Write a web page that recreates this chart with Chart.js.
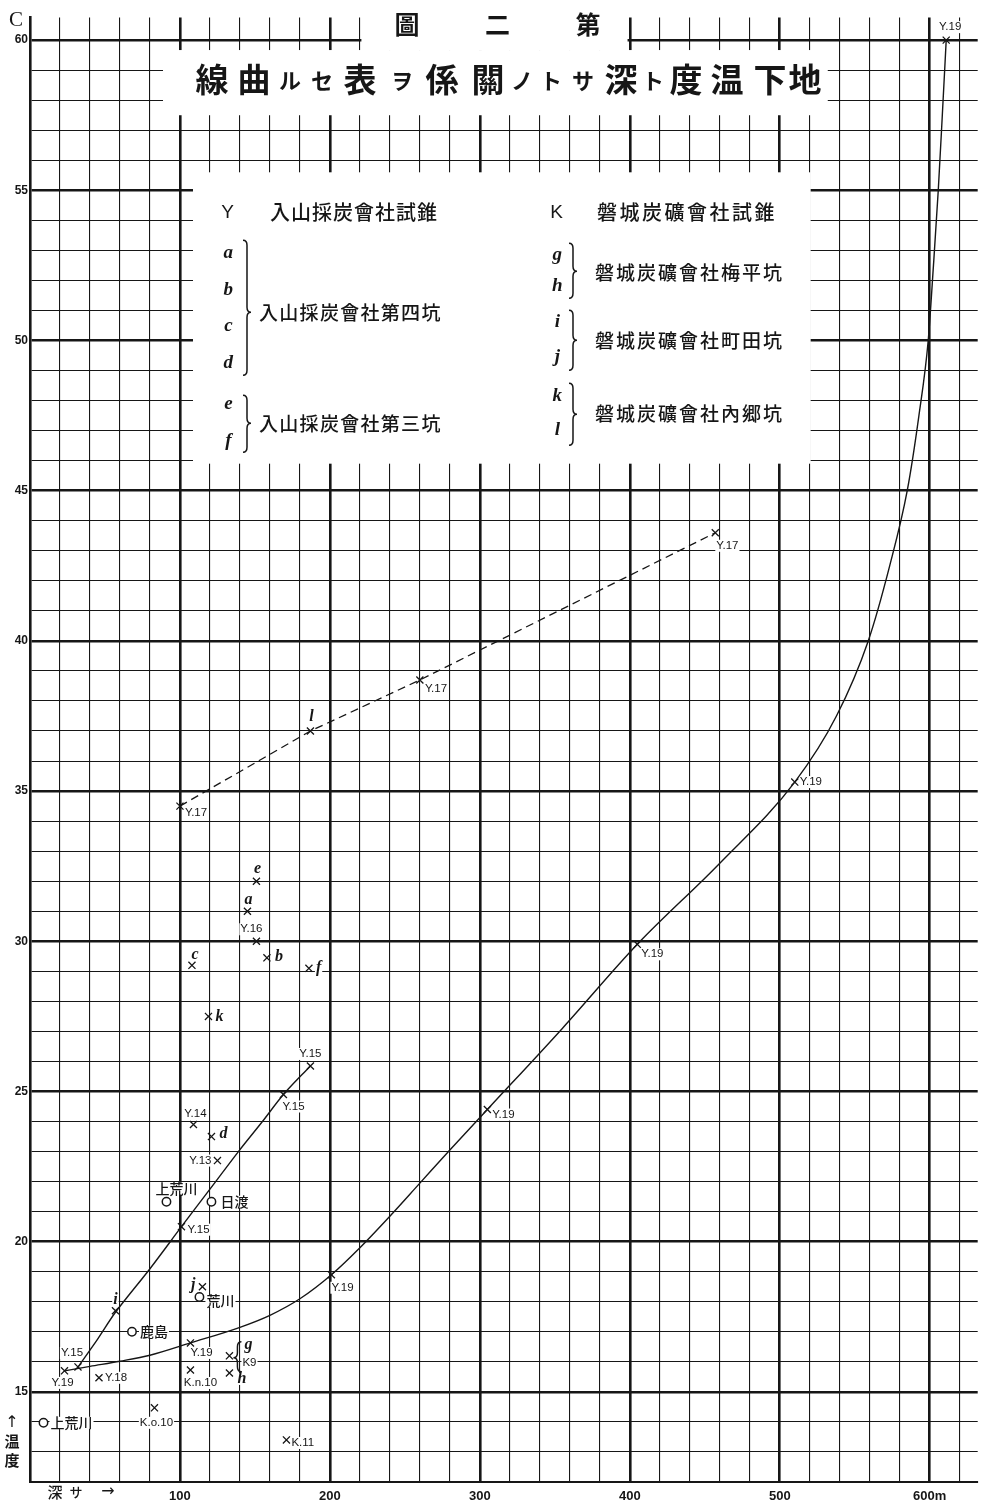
<!DOCTYPE html>
<html lang="ja">
<head>
<meta charset="utf-8">
<title>地下温度ト深サトノ關係ヲ表セル曲線</title>
<script src="https://cdn.jsdelivr.net/npm/chart.js@4.4.1/dist/chart.umd.min.js"></script>
<style>
  html, body { margin: 0; padding: 0; background: #fff; }
  #wrap { position: relative; width: 984px; height: 1506px; }
</style>
</head>
<body>
<div id="wrap"><canvas id="chart"></canvas></div>
<script>
// depth in metres along x, temperature in °C along y
const depthTicks = [100, 200, 300, 400, 500, 600];
const tempTicks = [15, 20, 25, 30, 35, 40, 45, 50, 55, 60];

// Y.19 bore: observations and the curve drawn through them
const y19Points = [[23, 15.7], [107, 16.63], [201, 18.9], [305, 24.4], [405, 29.9], [510, 35.3], [611, 60.0]];
const y19Curve = [
  [23, 15.7], [40, 15.85], [60, 16.02], [80, 16.22], [107, 16.63], [140, 17.15], [160, 17.55], [180, 18.1],
  [201, 18.9], [220, 19.8], [240, 20.85], [260, 21.95], [280, 23.05], [305, 24.4], [355, 27.1],
  [405, 29.9], [460, 32.6], [510, 35.3], [537.8, 37.5], [559, 40.0], [573.3, 42.5], [585, 45.0],
  [592.8, 47.5], [599, 50.0], [602.5, 52.5], [605.7, 55.0], [608.4, 57.5], [611, 60.0]
];

// Y.15 bore
const y15Points = [[32, 15.83], [101, 20.5], [169, 24.9], [187, 25.85]];
const y15Curve = [[32, 15.83], [45, 16.75], [57, 17.65], [80, 19.1], [101, 20.5], [120, 21.75], [139, 23.0], [155, 24.0], [169, 24.9], [187, 25.85]];

// Y.17 bore, joined by a broken line through pit l
const y17Points = [[100, 34.5], [260, 38.7], [457, 43.6]];
const y17Line = [[100, 34.5], [187, 37.0], [260, 38.7], [457, 43.6]];

// single readings from other bores
const otherBores = [['Y.16', 151, 30.0], ['Y.14', 109, 23.9], ['Y.13', 125, 22.7], ['Y.18', 46, 15.47],
  ['K.n.10', 107, 15.73], ['K.o.10', 83, 14.47], ['K.11', 171, 13.4]];

// pits a–l
const pitPoints = [['a', 145, 31.0], ['b', 158, 29.45], ['c', 108, 29.2], ['d', 121, 23.5], ['e', 151, 32.0],
  ['f', 186, 29.1], ['g', 133, 16.2], ['h', 133, 15.63], ['i', 57, 17.7], ['j', 115, 18.5], ['k', 119, 27.5], ['l', 187, 37.0]];

// springs and wells, drawn as rings
const placePoints = [['上荒川', 91, 21.33], ['日渡', 121, 21.33], ['荒川', 113, 18.16], ['鹿島', 68, 17.0], ['上荒川', 9, 13.97]];

// label offsets in px from each mark: [dx, dy, align]
const y19LabelPos = [[-2, 12, 'center'], [0, 10, 'left'], [0, 13, 'left'], [5, 5, 'left'], [4, 10, 'left'], [5, 0, 'left'], [4, -13, 'center']];
const y15LabelPos = [[-6, -14, 'center'], [6, 3, 'left'], [-1, 12, 'left'], [0, -12, 'center']];
const y17LabelPos = [[5, 7, 'left'], [5, 9, 'left'], [1, 13, 'left']];
const boreLabelPos = [[-5, -12, 'center'], [2, -11, 'center'], [-6, 0, 'right'], [6, 0, 'left'], [10, 13, 'center'], [2, 15, 'center'], [5, 3, 'left']];
const pitLabelPos = [[1, -11, 'center'], [8, -1, 'left'], [3, -10, 'center'], [8, -3, 'left'], [1, -12, 'center'],
  [7, 0, 'left'], [19, -11, 'center'], [8, 6, 'left'], [0, -11, 'center'], [-7, -2, 'right'], [7, 0, 'left'], [1, -14, 'center']];
const placeLabelPos = [[10, -13, 'center'], [9, 0, 'left'], [7, 4, 'left'], [8, 0, 'left'], [7, 0, 'left']];

// areas of the sheet left free of ruling (depth / temperature)
const blankBoxes = [
  { x0: 221, x1: 398.5, t0: 59.67, t1: 62 },
  { x0: 88.7, x1: 532, t0: 57.5, t1: 59.67 },
  { x0: 108.7, x1: 520.6, t0: 45.9, t1: 55.6 }
];

const ink = '#161616';
const cjk = '"Noto Sans CJK JP", "Noto Sans CJK SC", sans-serif';

const toXY = rows => rows.map(([x, y]) => ({ x, y }));

function label(ctx, text, x, y, align, font, bg) {
  ctx.font = font;
  ctx.textAlign = align;
  ctx.textBaseline = 'middle';
  if (bg) {
    const w = ctx.measureText(text).width;
    const x0 = align === 'left' ? x : align === 'right' ? x - w : x - w / 2;
    ctx.fillStyle = '#fff';
    ctx.fillRect(x0 - 1, y - 6, w + 2, 12);
  }
  ctx.fillStyle = ink;
  ctx.fillText(text, x, y);
}

// curly brace, dir = 1 points right "}", dir = -1 points left "{"
function brace(ctx, x, top, bottom, dir, tip) {
  const w = 4 * dir;
  const mid = tip === undefined ? (top + bottom) / 2 : tip;
  const r = 5;
  ctx.beginPath();
  ctx.moveTo(x, top);
  ctx.quadraticCurveTo(x + w, top, x + w, top + r);
  ctx.lineTo(x + w, mid - r);
  ctx.quadraticCurveTo(x + w, mid, x + 2 * w, mid);
  ctx.quadraticCurveTo(x + w, mid, x + w, mid + r);
  ctx.lineTo(x + w, bottom - r);
  ctx.quadraticCurveTo(x + w, bottom, x, bottom);
  ctx.strokeStyle = ink;
  ctx.lineWidth = 1.5;
  ctx.stroke();
}

const sheetPlugin = {
  id: 'sheet',
  beforeDatasetsDraw(chart) {
    const { ctx, scales: { x, y } } = chart;
    ctx.save();
    ctx.fillStyle = '#fff';
    for (const b of blankBoxes) {
      const px0 = x.getPixelForValue(b.x0), px1 = x.getPixelForValue(b.x1);
      const py0 = y.getPixelForValue(b.t1), py1 = y.getPixelForValue(b.t0);
      ctx.fillRect(px0, py0, px1 - px0, py1 - py0);
    }

    const boreFont = '11.5px "Liberation Sans", sans-serif';
    const put = (text, d, t, pos, font) => {
      const px = x.getPixelForValue(d), py = y.getPixelForValue(t);
      label(ctx, text, px + pos[0], py + pos[1], pos[2], font, true);
      return [px, py];
    };
    y19Points.forEach((p, i) => put('Y.19', p[0], p[1], y19LabelPos[i], boreFont));
    y15Points.forEach((p, i) => put('Y.15', p[0], p[1], y15LabelPos[i], boreFont));
    y17Points.forEach((p, i) => put('Y.17', p[0], p[1], y17LabelPos[i], boreFont));
    otherBores.forEach((p, i) => put(p[0], p[1], p[2], boreLabelPos[i], boreFont));
    pitPoints.forEach((p, i) => {
      const [px, py] = put(p[0], p[1], p[2], pitLabelPos[i], 'italic bold 16px "Liberation Serif", serif');
      if (p[0] === 'g') {
        // g belongs to bore K9
        brace(ctx, px + 12, py - 14, py + 16, -1, py + 2);
        label(ctx, 'K9', px + 13, py + 7, 'left', boreFont, true);
      }
    });
    placePoints.forEach((p, i) => put(p[0], p[1], p[2], placeLabelPos[i], '500 14px ' + cjk));
    ctx.restore();
  },
  afterDraw(chart) {
    const { ctx, scales: { x, y } } = chart;
    ctx.save();

    // figure number
    ['圖', '二', '第'].forEach((ch, i) => label(ctx, ch, 407 + i * 90.5, 24, 'center', '700 25px ' + cjk, false));

    // heading
    const heading = [['線', 212, 1], ['曲', 254, 1], ['ル', 290, 0], ['セ', 322, 0], ['表', 360, 1], ['ヲ', 402, 0],
      ['係', 442, 1], ['關', 488, 1], ['ノ', 522, 0], ['ト', 551, 0], ['サ', 583, 0], ['深', 621, 1], ['ト', 653, 0],
      ['度', 686, 1], ['温', 727, 1], ['下', 770, 1], ['地', 805, 1]];
    heading.forEach(([ch, cx, big]) => label(ctx, ch, cx, big ? 79 : 81, 'center', (big ? '600 33px ' : '600 22px ') + cjk, false));

    // key to the letters
    const bx = x.getPixelForValue(blankBoxes[2].x0);
    const by = y.getPixelForValue(blankBoxes[2].t1);
    const keyFont = '500 19px ' + cjk;
    const letterFont = 'italic bold 19px "Liberation Serif", serif';
    ctx.letterSpacing = '1px';
    label(ctx, 'Y', bx + 35, by + 40, 'center', '19px "Liberation Sans", sans-serif', false);
    label(ctx, '入山採炭會社試錐', bx + 77, by + 40, 'left', '500 20px ' + cjk, false);
    label(ctx, 'K', bx + 364, by + 40, 'center', '19px "Liberation Sans", sans-serif', false);
    ctx.letterSpacing = '2.5px';
    label(ctx, '磐城炭礦會社試錐', bx + 404, by + 40, 'left', '500 20px ' + cjk, false);
    ctx.letterSpacing = '1.3px';
    [['a', 81], ['b', 118], ['c', 154], ['d', 191], ['e', 232], ['f', 269]].forEach(([c, dy]) => label(ctx, c, bx + 36, by + dy, 'center', letterFont, false));
    brace(ctx, bx + 50, by + 68, by + 203, 1, by + 140);
    label(ctx, '入山採炭會社第四坑', bx + 66, by + 140, 'left', keyFont, false);
    brace(ctx, bx + 50, by + 223, by + 280, 1, by + 251);
    label(ctx, '入山採炭會社第三坑', bx + 66, by + 251, 'left', keyFont, false);

    [['g', 83], ['h', 114], ['i', 150], ['j', 185], ['k', 224], ['l', 258]].forEach(([c, dy]) => label(ctx, c, bx + 365, by + dy, 'center', letterFont, false));
    ctx.letterSpacing = '2px';
    brace(ctx, bx + 376, by + 71, by + 126, 1, by + 99);
    label(ctx, '磐城炭礦會社梅平坑', bx + 402, by + 100, 'left', keyFont, false);
    brace(ctx, bx + 376, by + 138, by + 198, 1, by + 168);
    label(ctx, '磐城炭礦會社町田坑', bx + 402, by + 168, 'left', keyFont, false);
    brace(ctx, bx + 376, by + 211, by + 273, 1, by + 242);
    label(ctx, '磐城炭礦會社內郷坑', bx + 402, by + 241, 'left', keyFont, false);
    ctx.letterSpacing = '0px';

    // axis captions
    label(ctx, 'C', 16, 20, 'center', '21px "Liberation Serif", serif', false);
    label(ctx, '↑', 12, 1423, 'center', '16px "DejaVu Sans", sans-serif', false);
    label(ctx, '温', 12, 1441, 'center', '600 15px ' + cjk, false);
    label(ctx, '度', 12, 1460, 'center', '600 15px ' + cjk, false);
    label(ctx, '深', 55, 1492, 'center', '500 15px ' + cjk, false);
    label(ctx, 'サ', 76, 1492, 'center', '500 13px ' + cjk, false);
    label(ctx, '→', 108, 1492, 'center', '16px "DejaVu Sans", sans-serif', false);
    ctx.restore();
  }
};

const crossStyle = { pointStyle: 'crossRot', pointRadius: 5, pointBorderWidth: 1.3, pointBorderColor: ink, showLine: false };

new Chart(document.getElementById('chart'), {
  type: 'scatter',
  data: {
    datasets: [
      { data: toXY(y19Curve), showLine: true, borderColor: ink, borderWidth: 1.4, pointRadius: 0, cubicInterpolationMode: 'monotone' },
      { data: toXY(y15Curve), showLine: true, borderColor: ink, borderWidth: 1.4, pointRadius: 0, tension: 0.3 },
      { data: toXY(y17Line), showLine: true, borderColor: ink, borderWidth: 1.3, borderDash: [8, 5], pointRadius: 0, tension: 0 },
      { data: toXY([...y19Points, ...y15Points, ...y17Points]), ...crossStyle },
      { data: otherBores.map(p => ({ x: p[1], y: p[2] })), ...crossStyle },
      { data: pitPoints.map(p => ({ x: p[1], y: p[2] })), ...crossStyle },
      { data: placePoints.map(p => ({ x: p[1], y: p[2] })), showLine: false, pointStyle: 'circle', pointRadius: 4.2,
        pointBorderWidth: 1.5, pointBorderColor: ink, pointBackgroundColor: '#fff' }
    ]
  },
  options: {
    responsive: true,
    maintainAspectRatio: false,
    animation: false,
    layout: { padding: { top: 17.6, right: 6, left: 0, bottom: 0 } },
    plugins: { legend: { display: false }, tooltip: { enabled: false } },
    scales: {
      x: {
        type: 'linear', min: 0, max: 632,
        afterFit: s => { s.height = 24; },
        border: { display: true, color: ink, width: 2 },
        grid: {
          drawTicks: false, color: ink,
          lineWidth: c => (c.tick && depthTicks.includes(c.tick.value) ? 2.6 : 1.1)
        },
        ticks: {
          stepSize: 20, includeBounds: false, autoSkip: false, maxRotation: 0, padding: 7,
          color: ink, font: { family: '"Liberation Sans", sans-serif', size: 13, weight: 'bold' },
          callback: v => (depthTicks.includes(v) ? (v === 600 ? '600m' : String(v)) : '')
        }
      },
      y: {
        type: 'linear', min: 12, max: 60.75,
        afterFit: s => { s.width = 30; },
        border: { display: true, color: ink, width: 2.6 },
        grid: {
          drawTicks: false, color: ink,
          lineWidth: c => (c.tick && tempTicks.includes(c.tick.value) ? 2.6 : 1.1)
        },
        ticks: {
          stepSize: 1, includeBounds: false, autoSkip: false, padding: 2,
          color: ink, font: { family: '"Liberation Sans", sans-serif', size: 12, weight: 'bold' },
          callback: v => (tempTicks.includes(v) ? String(v) : '')
        }
      }
    }
  },
  plugins: [sheetPlugin]
});
</script>
</body>
</html>
